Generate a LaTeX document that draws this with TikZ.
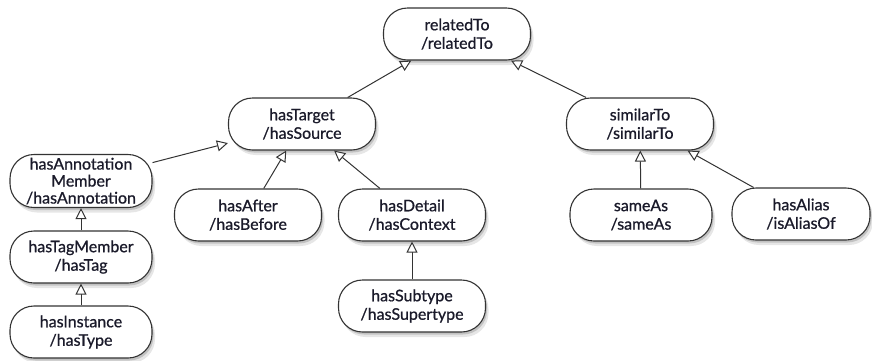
\documentclass[tikz,border=0pt]{standalone}
\usepackage{fontspec}
\setmainfont{Lato}[FakeBold=0.8]
\usetikzlibrary{arrows.meta,shadows}
\definecolor{edgecol}{HTML}{333333}
\definecolor{textcol}{HTML}{1A1A2A}
\tikzset{
  rel/.style={draw=edgecol, line width=1.1pt, fill=white, rounded corners=24pt,
    minimum width=147pt, minimum height=52pt, inner sep=2pt, align=center,
    text=textcol, font=\fontsize{16}{18.5}\selectfont,
    drop shadow={opacity=0.2, shadow xshift=3pt, shadow yshift=-5pt},
    drop shadow={opacity=0.35, shadow xshift=1.5pt, shadow yshift=-2.5pt}},
  gen/.style={draw=edgecol, line width=1pt,
    -{Triangle[open, length=11pt, width=11pt, fill=white]}}
}
\begin{document}
\begin{tikzpicture}[x=1pt,y=-1pt]
\useasboundingbox (0,0) rectangle (872,360);
\node[rel] (rel) at (457,34) {relatedTo\\/relatedTo};
\node[rel] (tgt) at (302,124) {hasTarget\\/hasSource};
\node[rel] (sim) at (640,124) {similarTo\\/similarTo};
\node[rel, minimum width=142pt, minimum height=53pt, inner sep=0pt, font=\fontsize{16}{17}\selectfont] (ann) at (81,181) {hasAnnotation\\Member\\/hasAnnotation};
\node[rel] (aft) at (248,215) {hasAfter\\/hasBefore};
\node[rel] (det) at (412,215) {hasDetail\\/hasContext};
\node[rel, minimum width=142pt] (same) at (641,215) {sameAs\\/sameAs};
\node[rel, minimum width=138pt] (alias) at (801,214) {hasAlias\\/isAliasOf};
\node[rel, minimum width=142pt] (tag) at (81,257) {hasTagMember\\/hasTag};
\node[rel] (sub) at (412,306) {hasSubtype\\/hasSupertype};
\node[rel, minimum width=142pt] (inst) at (81,332) {hasInstance\\/hasType};
\draw[gen] (tgt) -- (rel);
\draw[gen] (sim) -- (rel);
\draw[gen] (ann) -- (tgt);
\draw[gen] (aft) -- (tgt);
\draw[gen] (det) -- (tgt);
\draw[gen] (tag) -- (ann);
\draw[gen] (inst) -- (tag);
\draw[gen] (sub) -- (det);
\draw[gen] (same) -- (sim);
\draw[gen] (alias) -- (sim);
\end{tikzpicture}
\end{document}
